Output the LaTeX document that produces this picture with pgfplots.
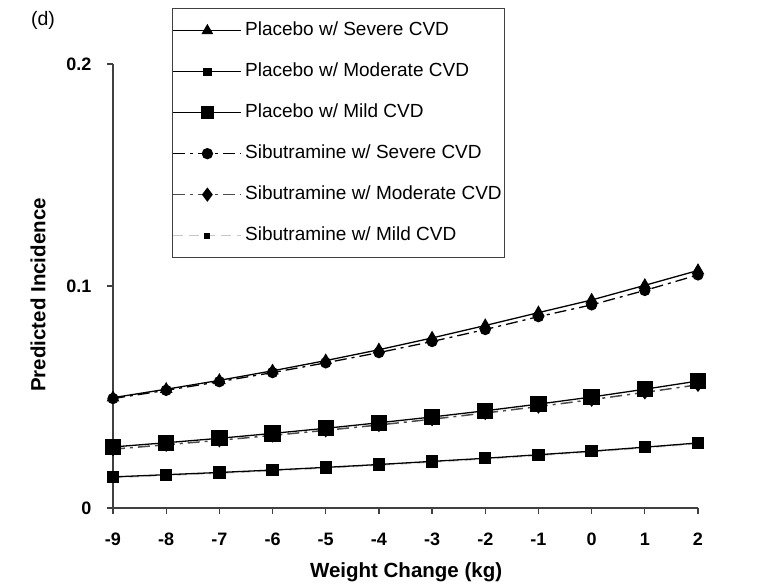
\documentclass[border=0pt]{standalone}
\usepackage{pgfplots}
\pgfplotsset{compat=1.18}
\usepackage{fontspec}
\setmainfont{Liberation Sans}
\definecolor{axgray}{gray}{0.25}
\definecolor{midgray}{gray}{0.3}
\definecolor{lightg}{gray}{0.78}
\begin{document}
\begin{tikzpicture}[x=1pt,y=1pt]
\useasboundingbox (0,0) rectangle (766,587);
\node[font=\fontsize{19.5}{22}\selectfont] at (43,567) {(d)};
\begin{axis}[
  at={(113pt,79pt)}, anchor=south west,
  scale only axis, width=585pt, height=444pt,
  xmin=-9, xmax=2, ymin=0, ymax=0.2,
  axis x line*=bottom, axis y line*=left,
  axis line style={axgray, line width=1.2pt, -},
  tick align=outside, major tick length=6pt,
  tick style={axgray, line width=1.2pt},
  xtick={-9,-8,-7,-6,-5,-4,-3,-2,-1,0,1,2},
  xticklabels={-9,-8,-7,-6,-5,-4,-3,-2,-1,0,1,2},
  ytick={0,0.1,0.2},
  yticklabels={0,0.1,0.2},
  ticklabel style={font=\bfseries\fontsize{18}{21}\selectfont},
  xticklabel style={yshift=-15pt, text height=13pt, text depth=0pt},
  yticklabel style={xshift=-12pt},
  xlabel={Weight Change (kg)},
  ylabel={Predicted Incidence},
  label style={font=\bfseries\fontsize{20.5}{24}\selectfont},
  xlabel style={at={(axis description cs:0.501,-0.144)}, anchor=center},
  ylabel style={at={(axis description cs:-0.128,0.48)}, anchor=center},
  clip=false,
  legend cell align=left,
  legend style={at={(axis description cs:0.1009,1.126)}, anchor=north west,
    draw=axgray, line width=1.2pt, inner xsep=0pt, inner ysep=11pt,
    font=\fontsize{19}{22}\selectfont, row sep=19pt,
    nodes={inner xsep=3pt, text height=14pt, text depth=4pt}},
  legend image code/.code={\draw[mark repeat=2,mark phase=2,#1] plot coordinates {(0pt,0pt)(34pt,0pt)(68pt,0pt)};},
]
% legend entries
\addlegendimage{black, line width=1.3pt, mark=triangle*, mark size=5.5pt, mark options={solid}}
\addlegendentry{Placebo w/ Severe CVD}
\addlegendimage{black, line width=1.3pt, mark=square*, mark size=3.5pt, mark options={solid}}
\addlegendentry{Placebo w/ Moderate CVD}
\addlegendimage{black, line width=1.3pt, mark=square*, mark size=6pt, mark options={solid}}
\addlegendentry{Placebo w/ Mild CVD}
\addlegendimage{black, line width=1.3pt, dash pattern=on 12pt off 5pt on 3pt off 5pt, mark=*, mark size=5pt, mark options={solid}}
\addlegendentry{Sibutramine w/ Severe CVD}
\addlegendimage{midgray, line width=1.5pt, dash pattern=on 12pt off 5pt on 3pt off 5pt, mark=diamond*, mark size=6pt, mark options={solid,fill=black,draw=black}}
\addlegendentry{Sibutramine w/ Moderate CVD}
\addlegendimage{lightg, line width=1.5pt, dash pattern=on 10pt off 6pt, mark=square*, mark size=2.2pt, mark options={solid,fill=black,draw=black}}
\addlegendentry{Sibutramine w/ Mild CVD}
% data
\addplot[forget plot, lightg, line width=1.5pt, dash pattern=on 10pt off 6pt, mark=square*, mark size=2.5pt, mark options={solid,fill=black,draw=black}] coordinates {
(-9,0.0137)(-8,0.0147)(-7,0.0157)(-6,0.0168)(-5,0.0180)(-4,0.0193)(-3,0.0207)(-2,0.0221)(-1,0.0237)(0,0.0253)(1,0.0271)(2,0.0290)};
\addplot[forget plot, black, line width=1.3pt, mark=square*, mark size=5.5pt, mark options={solid}] coordinates {
(-9,0.0140)(-8,0.0150)(-7,0.0160)(-6,0.0171)(-5,0.0183)(-4,0.0196)(-3,0.0210)(-2,0.0224)(-1,0.0240)(0,0.0256)(1,0.0274)(2,0.0293)};
\addplot[forget plot, midgray, line width=1.5pt, dash pattern=on 12pt off 5pt on 3pt off 5pt, mark=diamond*, mark size=6pt, mark options={solid,fill=black,draw=black}] coordinates {
(-9,0.0265)(-8,0.0285)(-7,0.0305)(-6,0.0327)(-5,0.0350)(-4,0.0374)(-3,0.0400)(-2,0.0428)(-1,0.0457)(0,0.0488)(1,0.0521)(2,0.0555)};
\addplot[forget plot, black, line width=1.3pt, mark=square*, mark size=7.5pt, mark options={solid}] coordinates {
(-9,0.0275)(-8,0.0294)(-7,0.0314)(-6,0.0336)(-5,0.0359)(-4,0.0384)(-3,0.0410)(-2,0.0438)(-1,0.0468)(0,0.0500)(1,0.0535)(2,0.0572)};
\addplot[forget plot, black, line width=1.3pt, dash pattern=on 12pt off 5pt on 3pt off 5pt, mark=*, mark size=5pt, mark options={solid}] coordinates {
(-9,0.0493)(-8,0.0530)(-7,0.0569)(-6,0.0610)(-5,0.0654)(-4,0.0700)(-3,0.0750)(-2,0.0804)(-1,0.0862)(0,0.0915)(1,0.0980)(2,0.1050)};
\addplot[forget plot, black, line width=1.3pt, mark=triangle*, mark size=6pt, mark options={solid}] coordinates {
(-9,0.0497)(-8,0.0535)(-7,0.0575)(-6,0.0618)(-5,0.0664)(-4,0.0713)(-3,0.0766)(-2,0.0822)(-1,0.0880)(0,0.0937)(1,0.1003)(2,0.1070)};
\end{axis}
\end{tikzpicture}
\end{document}
